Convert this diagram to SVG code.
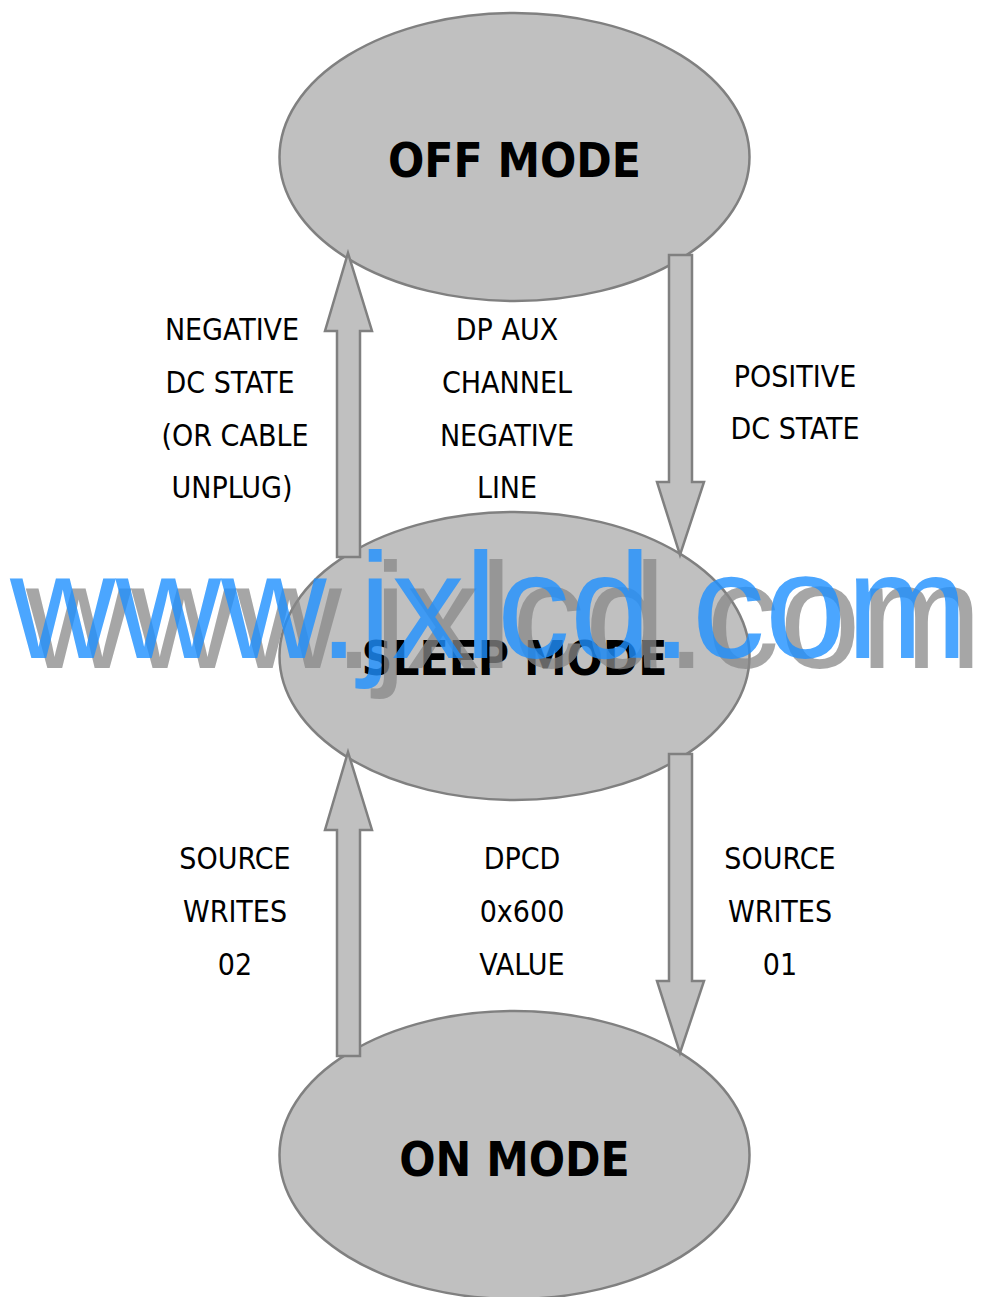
<svg xmlns="http://www.w3.org/2000/svg" width="982" height="1297" viewBox="0 0 982 1297">
<style>
.node{fill:#c0c0c0;stroke:#808080;stroke-width:2.5}
.arr{fill:#c0c0c0;stroke:#808080;stroke-width:2.5;stroke-linejoin:miter}
.title{font-family:"DejaVu Sans Condensed","DejaVu Sans",sans-serif;font-weight:bold;font-size:47.5px;fill:#000;text-anchor:middle}
.lbl{font-family:"DejaVu Sans Condensed","DejaVu Sans",sans-serif;font-size:30px;fill:#000;text-anchor:middle}
.wm{font-family:"Liberation Sans",Arial,sans-serif;font-size:150px}
</style>
<rect width="982" height="1297" fill="#fff"/>
<g id="off-mode">
<ellipse class="node" cx="514.5" cy="157" rx="235" ry="144"/>
<text class="title" x="514.5" y="177">OFF MODE</text>
</g>
<g id="sleep-mode">
<ellipse class="node" cx="514.5" cy="656" rx="235" ry="144"/>
<text class="title" x="514.5" y="675">SLEEP MODE</text>
</g>
<g id="on-mode">
<ellipse class="node" cx="514.5" cy="1155" rx="235" ry="144"/>
<text class="title" x="514.5" y="1176">ON MODE</text>
</g>
<g id="connectors">
<path class="arr" d="M337,557 L337,331 L325,331 L348,253 L372,331 L360,331 L360,557 Z"/>
<path class="arr" d="M669,255 L692,255 L692,482 L704,482 L680,555 L657,482 L669,482 Z"/>
<path class="arr" d="M337,1056 L337,830 L325,830 L348,752 L372,830 L360,830 L360,1056 Z"/>
<path class="arr" d="M669,754 L692,754 L692,981 L704,981 L680,1053 L657,981 L669,981 Z"/>
</g>
<g id="labels">
<text class="lbl" x="232" y="340">NEGATIVE</text>
<text class="lbl" x="230" y="393">DC STATE</text>
<text class="lbl" x="235" y="446">(OR CABLE</text>
<text class="lbl" x="232" y="498">UNPLUG)</text>
<text class="lbl" x="507" y="340">DP AUX</text>
<text class="lbl" x="507" y="393">CHANNEL</text>
<text class="lbl" x="507" y="446">NEGATIVE</text>
<text class="lbl" x="507" y="498">LINE</text>
<text class="lbl" x="795" y="387">POSITIVE</text>
<text class="lbl" x="795" y="439">DC STATE</text>
<text class="lbl" x="235" y="869">SOURCE</text>
<text class="lbl" x="235" y="922">WRITES</text>
<text class="lbl" x="235" y="975">02</text>
<text class="lbl" x="522" y="869">DPCD</text>
<text class="lbl" x="522" y="922">0x600</text>
<text class="lbl" x="522" y="975">VALUE</text>
<text class="lbl" x="780" y="869">SOURCE</text>
<text class="lbl" x="780" y="922">WRITES</text>
<text class="lbl" x="780" y="975">01</text>
</g>
<g id="watermark">
<text class="wm" x="26" y="668" textLength="956" lengthAdjust="spacingAndGlyphs" fill="#888" fill-opacity="0.75">www.jxlcd.com</text>
<text class="wm" x="10" y="658" textLength="958" lengthAdjust="spacingAndGlyphs" fill="#1e90ff" fill-opacity="0.8">www.jxlcd.com</text>
</g>
</svg>
